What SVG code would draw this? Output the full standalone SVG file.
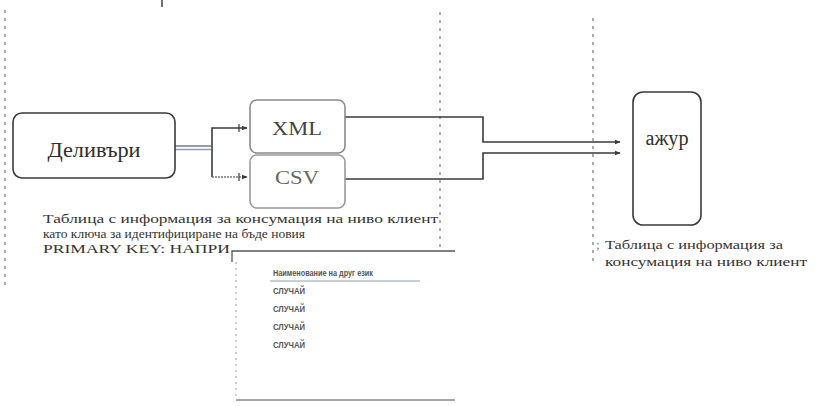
<svg xmlns="http://www.w3.org/2000/svg" width="817" height="406" viewBox="0 0 817 406">
<defs>
<style>
.node{fill:#fff;stroke:#3a3a3a;stroke-width:1.6}
.big{font-family:"Liberation Serif","DejaVu Serif",serif;fill:#2e2e2e}
.txt{font-family:"Liberation Serif","DejaVu Serif",serif;font-size:13.5px;fill:#333}
.small{font-family:"Liberation Sans","DejaVu Sans",sans-serif;font-size:9px;fill:#555;font-weight:bold}
.dash{stroke:#8a8a8a;stroke-width:1.4;stroke-dasharray:3 5;fill:none}
.conn{stroke:#3a3a3a;stroke-width:1.6;fill:none}
</style>
<marker id="arr" viewBox="0 0 10 10" refX="9" refY="5" markerWidth="6" markerHeight="6" orient="auto" markerUnits="userSpaceOnUse">
<path d="M0,1 L10,5 L0,9 z" fill="#3a3a3a"/>
</marker>
</defs>
<rect width="817" height="406" fill="#fff"/>
<g id="guides">
<line class="dash" x1="5" y1="10" x2="5" y2="287"/>
<line class="dash" x1="440" y1="12" x2="440" y2="250"/>
<line class="dash" x1="593" y1="18" x2="593" y2="262"/>
<line x1="162" y1="0" x2="162" y2="7" stroke="#444" stroke-width="1.5"/>
</g>
<g id="connectors">
<line x1="175" y1="146" x2="211" y2="146" stroke="#6f7c8a" stroke-width="1.5"/>
<line x1="175" y1="149.5" x2="211" y2="149.5" stroke="#8f9bab" stroke-width="1.5"/>
<path class="conn" d="M212,177 L212,128 L247,128" marker-end="url(#arr)"/>
<path d="M212,177 L247,177" stroke="#777" stroke-width="1.5" stroke-dasharray="2 1" fill="none" marker-end="url(#arr)"/>
<line x1="239" y1="124" x2="239" y2="132" stroke="#3a3a3a" stroke-width="1.2"/>
<line x1="239" y1="173" x2="239" y2="181" stroke="#3a3a3a" stroke-width="1.2"/>
<path class="conn" d="M345,117 L483,117 L483,142 L620,142" marker-end="url(#arr)"/>
<path class="conn" d="M345,179 L483,179 L483,153 L620,153" marker-end="url(#arr)"/>
</g>
<g id="node-delivery">
<rect class="node" x="13" y="113" width="162" height="65" rx="9"/>
<text class="big" x="94" y="157" font-size="21" text-anchor="middle" textLength="93" lengthAdjust="spacingAndGlyphs">Деливъри</text>
</g>
<g id="node-xml">
<rect class="node" x="250" y="100" width="95" height="53" rx="7" style="stroke:#8a8a8a"/>
<text class="big" x="297" y="135" font-size="19" text-anchor="middle" textLength="50" lengthAdjust="spacingAndGlyphs" style="fill:#444">XML</text>
</g>
<g id="node-csv">
<rect class="node" x="250" y="155" width="95" height="53" rx="7" style="stroke:#9a9a9a"/>
<text class="big" x="297" y="184" font-size="18" text-anchor="middle" textLength="44" lengthAdjust="spacingAndGlyphs" style="fill:#666">CSV</text>
</g>
<g id="node-azhur">
<rect class="node" x="633" y="92" width="68" height="133" rx="10"/>
<text class="big" x="667" y="145" font-size="20" text-anchor="middle" textLength="43" lengthAdjust="spacingAndGlyphs">ажур</text>
</g>
<g id="label-left">
<text class="txt" x="43" y="223" textLength="395" lengthAdjust="spacingAndGlyphs">Таблица с информация за консумация на ниво клиент</text>
<text class="txt" x="43" y="238" textLength="262" lengthAdjust="spacingAndGlyphs">като ключа за идентифициране на бъде новия</text>
<text class="txt" x="43" y="253" textLength="187" lengthAdjust="spacingAndGlyphs">PRIMARY KEY: НАПРИ</text>
</g>
<g id="node-example">
<path d="M232,262 L232,251 L455,251" stroke="#555" stroke-width="1.3" fill="none"/>
<line x1="236" y1="262" x2="236" y2="400" stroke="#999" stroke-width="1" stroke-dasharray="2 4"/>
<line x1="236" y1="400" x2="455" y2="400" stroke="#888" stroke-width="1.4"/>
<line x1="270" y1="281" x2="420" y2="281" stroke="#c8d0dc" stroke-width="2"/>
<text class="small" x="273" y="276" textLength="100" lengthAdjust="spacingAndGlyphs">Наименование на друг език</text>
<text class="small" x="273" y="294" textLength="32" lengthAdjust="spacingAndGlyphs">СЛУЧАЙ</text>
<text class="small" x="273" y="312" textLength="32" lengthAdjust="spacingAndGlyphs">СЛУЧАЙ</text>
<text class="small" x="273" y="330" textLength="32" lengthAdjust="spacingAndGlyphs">СЛУЧАЙ</text>
<text class="small" x="273" y="348" textLength="32" lengthAdjust="spacingAndGlyphs">СЛУЧАЙ</text>
</g>
<g id="label-right">
<text class="txt" x="596" y="249" style="fill:#777">;</text>
<text class="txt" x="605" y="249" textLength="178" lengthAdjust="spacingAndGlyphs">Таблица с информация за</text>
<text class="txt" x="605" y="266" textLength="202" lengthAdjust="spacingAndGlyphs">консумация на ниво клиент</text>
</g>
</svg>
